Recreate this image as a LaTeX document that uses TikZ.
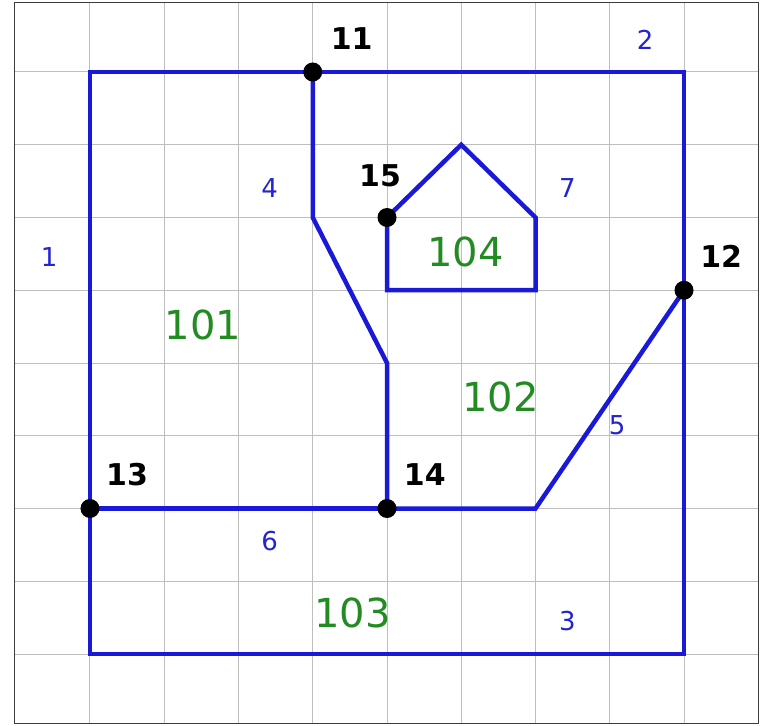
\documentclass[tikz,border=0pt]{standalone}
\usepackage{fontspec}
\setmainfont{DejaVu Sans}
\definecolor{eblue}{RGB}{25,25,215}
\definecolor{tblue}{RGB}{35,35,210}
\definecolor{fgreen}{RGB}{34,139,34}
\tikzset{
  gridline/.style={draw={rgb,255:red,190;green,190;blue,190}, line width=1pt},
  frameline/.style={draw={rgb,255:red,60;green,60;blue,60}, line width=1.2pt},
  edgeline/.style={draw=eblue, line width=4.5pt, line join=miter},
  vtx/.style={circle, fill=black, inner sep=0pt, minimum size=19pt},
  elabel/.style={text=tblue, font=\fontsize{26}{26}\selectfont, inner sep=0pt},
  flabel/.style={text=fgreen, font=\fontsize{40}{40}\selectfont, inner sep=0pt},
  vlabel/.style={text=black, font=\fontsize{30}{30}\selectfont\bfseries, inner sep=0pt}
}
\begin{document}
\begin{tikzpicture}[x=74.25pt, y=72.75pt]
\useasboundingbox (-1.2121,-0.9759) rectangle (9.0370,8.9897);
\fill[white] (-1.2121,-0.9759) rectangle (9.0370,8.9897);
% grid
\foreach \i in {0,...,8} {
  \draw[gridline] (\i,-0.96) -- (\i,8.95);
  \draw[gridline] (-1.02,\i) -- (9.0,\i);
}
\draw[frameline] (-1.02,-0.96) rectangle (9.0,8.95);
% corner coordinates
\coordinate (c00) at (0,0);
\coordinate (c80) at (8,0);
\coordinate (c88) at (8,8);
\coordinate (c08) at (0,8);
\coordinate (a36) at (3,6);
\coordinate (a44) at (4,4);
\coordinate (a62) at (6,2);
\coordinate (p57) at (5,7);
\coordinate (p66) at (6,6);
\coordinate (p65) at (6,5);
\coordinate (p45) at (4,5);
\coordinate (v11) at (3,8);
\coordinate (v12) at (8,5);
\coordinate (v13) at (0,2);
\coordinate (v14) at (4,2);
\coordinate (v15) at (4,6);
% edges
\draw[edgeline] (v13) -- (c08) -- (v11);
\draw[edgeline] (v11) -- (c88) -- (v12);
\draw[edgeline] (v12) -- (c80) -- (c00) -- (v13);
\draw[edgeline] (v11) -- (a36) -- (a44) -- (v14);
\draw[edgeline] (v14) -- (a62) -- (v12);
\draw[edgeline] (v13) -- (v14);
\draw[edgeline] (v15) -- (p57) -- (p66) -- (p65) -- (p45) -- cycle;
% vertex dots
\node[vtx] (d11) at (v11) {};
\node[vtx] (d12) at (v12) {};
\node[vtx] (d13) at (v13) {};
\node[vtx] (d14) at (v14) {};
\node[vtx] (d15) at (v15) {};
% edge labels
\node[elabel] (e1) at (-0.55,5.45) {1};
\node[elabel] (e2) at (7.475,8.44) {2};
\node[elabel] (e3) at (6.43,0.45) {3};
\node[elabel] (e4) at (2.42,6.41) {4};
\node[elabel] (e5) at (7.10,3.15) {5};
\node[elabel] (e6) at (2.42,1.55) {6};
\node[elabel] (e7) at (6.43,6.41) {7};
% face labels
\node[flabel] (f101) at (1.52,4.52) {101};
\node[flabel] (f102) at (5.53,3.54) {102};
\node[flabel] (f103) at (3.535,0.56) {103};
\node[flabel] (f104) at (5.06,5.53) {104};
% vertex labels
\node[vlabel] (l11) at (3.525,8.454) {11};
\node[vlabel] (l12) at (8.50,5.46) {12};
\node[vlabel] (l13) at (0.50,2.46) {13};
\node[vlabel] (l14) at (4.51,2.47) {14};
\node[vlabel] (l15) at (3.906,6.57) {15};
\end{tikzpicture}
\end{document}
